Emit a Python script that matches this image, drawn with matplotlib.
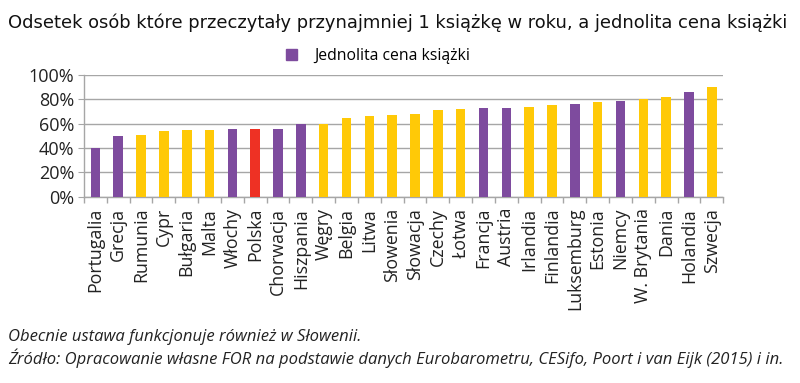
import matplotlib
matplotlib.use("Agg")
import matplotlib.pyplot as plt
from matplotlib.patches import Patch
from matplotlib.ticker import FuncFormatter, MultipleLocator

countries = ["Portugalia", "Grecja", "Rumunia", "Cypr", "Bułgaria", "Malta", "Włochy",
             "Polska", "Chorwacja", "Hiszpania", "Węgry", "Belgia", "Litwa", "Słowenia",
             "Słowacja", "Czechy", "Łotwa", "Francja", "Austria", "Irlandia", "Finlandia",
             "Luksemburg", "Estonia", "Niemcy", "W. Brytania", "Dania", "Holandia", "Szwecja"]
values = [40, 50, 51, 54, 55, 55, 56, 56, 56, 60, 60, 65, 66, 67,
          68, 71, 72, 73, 73, 74, 75, 76, 78, 79, 80, 82, 86, 90]
# group: 'p' = fixed book price (purple), 'y' = none (yellow), 'r' = Poland (red)
groups = ["p", "p", "y", "y", "y", "y", "p", "r", "p", "p", "y", "y", "y", "y",
          "y", "y", "y", "p", "p", "y", "y", "p", "y", "p", "y", "y", "p", "y"]

title = "Odsetek osób które przeczytały przynajmniej 1 książkę w roku, a jednolita cena książki"
legend_label = "Jednolita cena książki"
note1 = "Obecnie ustawa funkcjonuje również w Słowenii."
note2 = "Źródło: Opracowanie własne FOR na podstawie danych Eurobarometru, CESifo, Poort i van Eijk (2015) i in."

PURPLE = "#7E4B9E"
YELLOW = "#FFC907"
RED = "#EE3124"
cmap = {"p": PURPLE, "y": YELLOW, "r": RED}

plt.rcParams['font.family'] = ['Open Sans', 'DejaVu Sans']

fig = plt.figure(figsize=(8, 3.83), dpi=100)
ax = fig.add_axes([0.105, 0.4864, 0.799, 0.3176])

x = range(len(countries))
ax.bar(x, values, width=0.42, color=[cmap[g] for g in groups], zorder=3)
ax.set_xlim(-0.5, len(countries) - 0.5)
ax.set_ylim(0, 100)
ax.yaxis.set_major_locator(MultipleLocator(20))
ax.yaxis.set_major_formatter(FuncFormatter(lambda v, p: f"{int(v)}%"))
ax.grid(axis="y", color="#A6A6A6", linewidth=1.0, zorder=0)
ax.set_axisbelow(True)

ax.set_xticks(list(x))
ax.set_xticklabels(countries, rotation=90, fontsize=12.8, color="#222222")
ax.tick_params(axis="x", length=0, pad=8)
ax.set_xticks([i - 0.5 for i in range(len(countries) + 1)], minor=True)
ax.tick_params(axis="x", which="minor", length=4, color="#A6A6A6", width=1)
ax.tick_params(axis="y", length=4, color="#A6A6A6", labelsize=13, labelcolor="#222222", pad=3)

for s in ["top", "right"]:
    ax.spines[s].set_visible(False)
for s in ["left", "bottom"]:
    ax.spines[s].set_color("#A6A6A6")
    ax.spines[s].set_linewidth(1.0)

fig.text(0.01, 0.94, title, family="DejaVu Sans", fontsize=12.9, color="#111111",
         va="center", ha="left")

fig.legend(handles=[Patch(color=PURPLE, label=legend_label)], loc="center",
           bbox_to_anchor=(0.472, 0.853), frameon=False, fontsize=11.3,
           handlelength=0.7, handleheight=0.7, handletextpad=1.1)

fig.text(0.01, 0.12, note1, fontsize=12, style="italic", color="#222222", va="center")
fig.text(0.01, 0.065, note2, fontsize=12, style="italic", color="#222222", va="center")

fig.savefig("out.png", dpi=100)
